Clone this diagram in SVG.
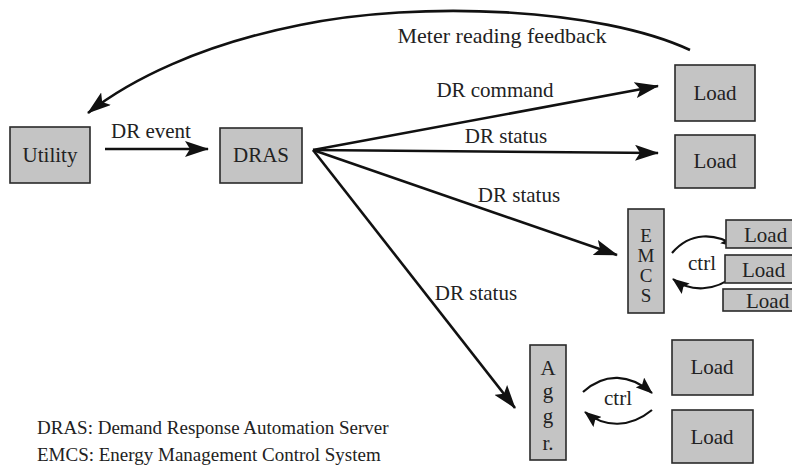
<svg xmlns="http://www.w3.org/2000/svg" width="792" height="475" viewBox="0 0 792 475">
<style>
.box{fill:#c4c4c4;stroke:#2a2a2a;stroke-width:1.6}
.ln{fill:none;stroke:#111;stroke-width:2.6}
.lnt{fill:none;stroke:#111;stroke-width:2.2}
</style>
<defs>
<marker id="ah" viewBox="0 0 24 16" refX="23" refY="8" markerWidth="24" markerHeight="16" markerUnits="userSpaceOnUse" orient="auto">
<path d="M0,0 L24,8 L0,16 L5,8 Z" fill="#111"/>
</marker>
<marker id="ahs" viewBox="0 0 17 13" refX="16" refY="6.5" markerWidth="17" markerHeight="13" markerUnits="userSpaceOnUse" orient="auto">
<path d="M0,0 L17,6.5 L0,13 L3,6.5 Z" fill="#111"/>
</marker>
</defs>
<rect width="792" height="475" fill="#fff"/>
<g id="connectors">
<path class="ln" d="M690,50 C600,8 420,0 300,25 C200,45 130,80 88,113" marker-end="url(#ah)"/>
<path class="ln" d="M105,149 L208,149" marker-end="url(#ah)"/>
<path class="ln" d="M313,150 L658,86" marker-end="url(#ah)"/>
<path class="ln" d="M313,150 L658,153" marker-end="url(#ah)"/>
<path class="ln" d="M313,150 L617,255" marker-end="url(#ah)"/>
<path class="ln" d="M313,150 L515,408" marker-end="url(#ah)"/>
<path class="lnt" d="M672,253 C690,232 715,232 737,247" marker-end="url(#ahs)"/>
<path class="lnt" d="M735,275 C715,292 690,292 673,279" marker-end="url(#ahs)"/>
<path class="lnt" d="M583,392 C605,372 630,374 652,393" marker-end="url(#ahs)"/>
<path class="lnt" d="M652,410 C630,428 605,428 585,412" marker-end="url(#ahs)"/>
</g>
<g id="labels" fill="#222">
<text style="font-family:'Liberation Serif',serif;font-size:22px" text-anchor="middle" x="502" y="43">Meter reading feedback</text>
<text style="font-family:'Liberation Serif',serif;font-size:21px" text-anchor="middle" x="151" y="138">DR event</text>
<text style="font-family:'Liberation Serif',serif;font-size:21px" text-anchor="middle" x="495" y="97">DR command</text>
<text style="font-family:'Liberation Serif',serif;font-size:21px" text-anchor="middle" x="506" y="143">DR status</text>
<text style="font-family:'Liberation Serif',serif;font-size:21px" text-anchor="middle" x="519" y="202">DR status</text>
<text style="font-family:'Liberation Serif',serif;font-size:21px" text-anchor="middle" x="476" y="300">DR status</text>
<text style="font-family:'Liberation Serif',serif;font-size:21px" text-anchor="middle" x="702" y="270">ctrl</text>
<text style="font-family:'Liberation Serif',serif;font-size:21px" text-anchor="middle" x="618" y="405">ctrl</text>
</g>
<g id="utility" fill="#222"><rect class="box" x="10" y="127" width="80" height="56"/><text style="font-family:'Liberation Serif',serif;font-size:21px" text-anchor="middle" x="50" y="162">Utility</text></g>
<g id="dras" fill="#222"><rect class="box" x="220" y="128" width="82" height="55"/><text style="font-family:'Liberation Serif',serif;font-size:21px" text-anchor="middle" x="261" y="162">DRAS</text></g>
<g id="load1" fill="#222"><rect class="box" x="675" y="65" width="80" height="56"/><text style="font-family:'Liberation Serif',serif;font-size:21px" text-anchor="middle" x="715" y="100">Load</text></g>
<g id="load2" fill="#222"><rect class="box" x="675" y="135" width="80" height="53"/><text style="font-family:'Liberation Serif',serif;font-size:21px" text-anchor="middle" x="715" y="168">Load</text></g>
<g id="emcs" fill="#222"><rect class="box" x="628" y="209" width="36" height="104"/>
<text style="font-family:'Liberation Serif',serif;font-size:19px" text-anchor="middle" x="646" y="242">E</text>
<text style="font-family:'Liberation Serif',serif;font-size:19px" text-anchor="middle" x="646" y="262">M</text>
<text style="font-family:'Liberation Serif',serif;font-size:19px" text-anchor="middle" x="646" y="282">C</text>
<text style="font-family:'Liberation Serif',serif;font-size:19px" text-anchor="middle" x="646" y="302">S</text></g>
<g id="load3" fill="#222"><rect class="box" x="726" y="220" width="72" height="28"/><text style="font-family:'Liberation Serif',serif;font-size:21px" x="744" y="242">Load</text></g>
<g id="load4" fill="#222"><rect class="box" x="725" y="255" width="72" height="28"/><text style="font-family:'Liberation Serif',serif;font-size:21px" x="742" y="277">Load</text></g>
<g id="load5" fill="#222"><rect class="box" x="723" y="289" width="74" height="22"/><text style="font-family:'Liberation Serif',serif;font-size:21px" x="746" y="308">Load</text></g>
<g id="aggr" fill="#222"><rect class="box" x="530" y="345" width="36" height="115"/>
<text style="font-family:'Liberation Serif',serif;font-size:21px" text-anchor="middle" x="548" y="375">A</text>
<text style="font-family:'Liberation Serif',serif;font-size:21px" text-anchor="middle" x="548" y="398">g</text>
<text style="font-family:'Liberation Serif',serif;font-size:21px" text-anchor="middle" x="548" y="423">g</text>
<text style="font-family:'Liberation Serif',serif;font-size:21px" text-anchor="middle" x="548" y="450">r.</text></g>
<g id="load6" fill="#222"><rect class="box" x="672" y="340" width="81" height="55"/><text style="font-family:'Liberation Serif',serif;font-size:21px" text-anchor="middle" x="712" y="374">Load</text></g>
<g id="load7" fill="#222"><rect class="box" x="672" y="410" width="81" height="53"/><text style="font-family:'Liberation Serif',serif;font-size:21px" text-anchor="middle" x="712" y="444">Load</text></g>
<g id="legend" fill="#222">
<text style="font-family:'Liberation Serif',serif;font-size:19px" x="37" y="434">DRAS: Demand Response Automation Server</text>
<text style="font-family:'Liberation Serif',serif;font-size:19px" x="37" y="461">EMCS: Energy Management Control System</text>
</g>
</svg>
